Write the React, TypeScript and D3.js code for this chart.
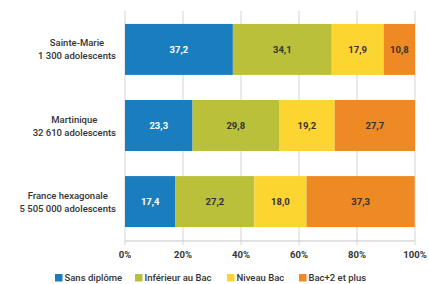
import * as d3 from "d3";

const categories = ["Sainte-Marie", "Martinique", "France hexagonale"];
const subLabels = ["1 300 adolescents", "32 610 adolescents", "5 505 000 adolescents"];
const seriesNames = ["Sans diplôme", "Inférieur au Bac", "Niveau Bac", "Bac+2 et plus"];
const seriesColors = ["#1a7dbd", "#bbc03b", "#fdd531", "#ee8a24"];
const sansDiplome = [37.2, 23.3, 17.4];
const inferieurBac = [34.1, 29.8, 27.2];
const niveauBac = [17.9, 19.2, 18.0];
const bacPlus2 = [10.8, 27.7, 37.3];
const xTicks = [0, 20, 40, 60, 80, 100];

const WIDTH = 429;
const HEIGHT = 284;
const LEFT = 125;
const RIGHT = 415;
const TOP = 11;
const AXIS_Y = 241;
const LABEL_RIGHT = 116;
const LABEL_SIZE = 9.5;
const FONT = "Roboto, 'Open Sans', sans-serif";

const fmt = (v: number) => v.toFixed(1).replace(".", ",");

let ctx: CanvasRenderingContext2D | null = null;
function measure(text: string) {
  if (!ctx) ctx = document.createElement("canvas").getContext("2d");
  if (!ctx) return text.length * 5;
  ctx.font = `500 ${LABEL_SIZE}px Roboto`;
  return ctx.measureText(text).width;
}

export default function App() {
  const rows = categories.map((name, i) => ({
    name,
    sub: subLabels[i],
    values: [sansDiplome[i], inferieurBac[i], niveauBac[i], bacPlus2[i]],
  }));

  const x = d3.scaleLinear().domain([0, 100]).range([LEFT, RIGHT]);
  const y = d3
    .scaleBand<string>()
    .domain(categories)
    .range([TOP, AXIS_Y - 1])
    .paddingInner(0.33)
    .paddingOuter(0.17);

  const stack = rows.map((row) => {
    let acc = 0;
    return row.values.map((v) => {
      const start = acc;
      acc += v;
      return { start, end: acc, value: v };
    });
  });

  const legendX = [55, 135, 227, 299];

  return (
    <svg
      width={WIDTH}
      height={HEIGHT}
      style={{ position: "absolute", left: 0, top: 0, background: "#fff" }}
      fontFamily={FONT}
    >
      {xTicks.map((t) => (
        <line
          key={t}
          x1={x(t)}
          x2={x(t)}
          y1={TOP}
          y2={AXIS_Y + 4}
          stroke="#dcdcdc"
          strokeWidth={1.2}
        />
      ))}
      <line x1={LEFT} x2={RIGHT} y1={AXIS_Y} y2={AXIS_Y} stroke="#c8c8c8" strokeWidth={1.2} />
      {xTicks.map((t) => (
        <text
          key={t}
          x={x(t)}
          y={AXIS_Y + 17}
          textAnchor="middle"
          fontSize={9.5}
          fontWeight={700}
          fill="#333"
        >
          {t}%
        </text>
      ))}

      {rows.map((row, i) => {
        const by = y(row.name) ?? 0;
        const bh = y.bandwidth();
        const cy = by + bh / 2;
        const blockW = Math.max(measure(row.name), measure(row.sub));
        const lx = LABEL_RIGHT - blockW / 2;
        return (
          <g key={row.name}>
            <text x={lx} y={cy - 3} textAnchor="middle" fontSize={LABEL_SIZE} fontWeight={500} fill="#333">
              {row.name}
            </text>
            <text x={lx} y={cy + 10} textAnchor="middle" fontSize={LABEL_SIZE} fontWeight={500} fill="#333">
              {row.sub}
            </text>
            {stack[i].map((seg, j) => (
              <g key={j}>
                <rect
                  x={x(seg.start)}
                  y={by}
                  width={x(seg.end) - x(seg.start)}
                  height={bh}
                  fill={seriesColors[j]}
                />
                <text
                  x={(x(seg.start) + x(seg.end)) / 2}
                  y={cy + 3.5}
                  textAnchor="middle"
                  fontSize={9.5}
                  fontWeight={700}
                  fill={j === 0 ? "#fff" : "#333"}
                >
                  {fmt(seg.value)}
                </text>
              </g>
            ))}
          </g>
        );
      })}

      {seriesNames.map((s, i) => (
        <g key={s}>
          <rect x={legendX[i]} y={274} width={7.5} height={7.5} fill={seriesColors[i]} />
          <text x={legendX[i] + 9.5} y={281} fontSize={9.5} fontWeight={500} fill="#333">
            {s}
          </text>
        </g>
      ))}
    </svg>
  );
}
